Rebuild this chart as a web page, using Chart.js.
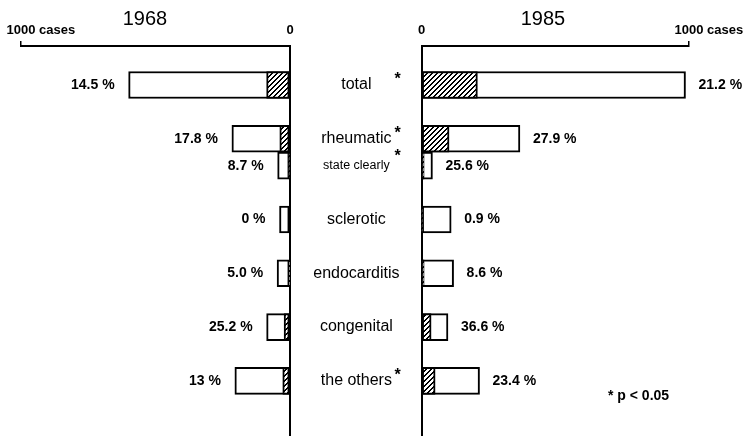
<!DOCTYPE html>
<html>
<head>
<meta charset="utf-8">
<script src="https://cdn.jsdelivr.net/npm/chart.js@4.4.1/dist/chart.umd.min.js"></script>
<style>
  body { margin: 0; background: #fff; }
  #wrap { position: relative; width: 747px; height: 436px; overflow: hidden; background: #fff; font-family: "Liberation Sans", Arial, sans-serif; color: #000; }
  canvas { position: absolute; top: 0; display: block; }
  #left { left: 0; }
  #right { left: 290px; }
  .year { position: absolute; top: 8px; width: 100px; text-align: center; font-size: 20px; line-height: 20px; }
  #note { position: absolute; left: 608px; top: 387px; font-size: 14px; line-height: 16px; font-weight: bold; white-space: nowrap; }
</style>
</head>
<body>
<div id="wrap">
  <canvas id="left" width="296" height="436"></canvas>
  <canvas id="right" width="457" height="436"></canvas>
  <div class="year" style="left:95px">1968</div>
  <div class="year" style="left:493px">1985</div>
  <div id="note">* p &lt; 0.05</div>
</div>
<script>
const categories = ['total', 'rheumatic', 'state clearly', 'sclerotic', 'endocarditis', 'congenital', 'the others'];
const cases1968 = [600, 216, 46, 39, 48, 87, 205];
const hatched1968 = [87, 38, 4, 0, 2, 22, 27];
const pct1968 = ['14.5 %', '17.8 %', '8.7 %', '0 %', '5.0 %', '25.2 %', '13 %'];
const cases1985 = [987, 368, 41, 111, 120, 99, 217];
const hatched1985 = [209, 103, 10, 1, 10, 36, 51];
const pct1985 = ['21.2 %', '27.9 %', '25.6 %', '0.9 %', '8.6 %', '36.6 %', '23.4 %'];
const significant = [true, true, true, false, false, false, true];
const axisTicks = [0, 1000];

// layout only: row slot of each category (rheumatic and state clearly share a slot)
const rowSlot = [0, 2, 3, 5, 7, 9, 11];

const FONT = '"Liberation Sans", Arial, sans-serif';
Chart.defaults.font.family = FONT;
Chart.defaults.color = '#000';

function hatchPattern() {
  const c = document.createElement('canvas');
  c.width = 5; c.height = 5;
  const g = c.getContext('2d');
  g.fillStyle = '#fff';
  g.fillRect(0, 0, 5, 5);
  g.fillStyle = '#000';
  for (let y = 0; y < 5; y++) {
    g.fillRect(4 - y, y, 1, 1);
    g.fillRect((5 - y) % 5, y, 1, 1);
  }
  return g.createPattern(c, 'repeat');
}

// percentage text at the end of each bar, plus the "cases" word and asterisks
const barNotes = {
  id: 'barNotes',
  afterDraw(chart, args, opts) {
    const ctx = chart.ctx;
    const meta = chart.getDatasetMeta(1);
    const left = opts.side === 'left';
    ctx.save();
    ctx.fillStyle = '#000';
    ctx.textBaseline = 'middle';
    ctx.font = 'bold 14px ' + FONT;
    ctx.textAlign = left ? 'right' : 'left';
    meta.data.forEach((bar, i) => {
      ctx.fillText(opts.labels[i], left ? bar.x - 14 : bar.x + 13, bar.y);
    });

    const sc = chart.scales.x;
    const px = sc.getPixelForValue(1000);
    ctx.font = 'bold 13px ' + FONT;
    ctx.textAlign = 'left';
    const wx = px + ctx.measureText('1000').width / 2 + ctx.measureText(' ').width;
    ctx.fillText('cases', wx, sc.bottom - 5 - 3 - 13 * 1.2 / 2);

    if (!left) {
      ctx.font = 'bold 16px ' + FONT;
      ctx.textAlign = 'center';
      meta.data.forEach((bar, i) => {
        if (!significant[i]) return;
        const lift = categories[i] === 'state clearly' ? 9 : 5;
        ctx.fillText('*', chart.chartArea.left - 24, bar.y - lift);
      });
    }
    ctx.restore();
  }
};

function makeChart(id, side) {
  const left = side === 'left';
  const totals = left ? cases1968 : cases1985;
  const hatched = left ? hatched1968 : hatched1985;
  const pattern = hatchPattern();
  const barStyle = { borderColor: '#000', borderWidth: 2, borderSkipped: false, barThickness: 27, grouped: false };

  return new Chart(document.getElementById(id), {
    type: 'bar',
    data: {
      datasets: [
        Object.assign({
          label: 'hatched',
          data: hatched.map((v, i) => ({ x: v, y: rowSlot[i] })),
          backgroundColor: pattern,
          order: 0
        }, barStyle),
        Object.assign({
          label: 'cases',
          data: totals.map((v, i) => ({ x: v, y: rowSlot[i] })),
          backgroundColor: '#fff',
          order: 1
        }, barStyle)
      ]
    },
    options: {
      indexAxis: 'y',
      responsive: false,
      animation: false,
      devicePixelRatio: 1,
      layout: { padding: left ? { left: 21, right: 6, top: 0, bottom: 0 } : { left: 0, right: 58, top: 0, bottom: 0 } },
      plugins: {
        legend: { display: false },
        tooltip: { enabled: false },
        barNotes: { side: side, labels: left ? pct1968 : pct1985 }
      },
      scales: {
        x: {
          type: 'linear',
          position: 'top',
          min: 0,
          max: 1000,
          reverse: left,
          offset: false,
          afterBuildTicks: s => { s.ticks = axisTicks.map(v => ({ value: v })); },
          afterFit: s => { s.height = 46; },
          grid: {
            offset: false,
            drawOnChartArea: false,
            tickLength: 5,
            lineWidth: 1.5,
            color: c => (c.tick && c.tick.value === 1000) ? '#000' : 'rgba(0,0,0,0)'
          },
          border: { display: true, color: '#000', width: 2 },
          ticks: {
            autoSkip: false,
            maxRotation: 0,
            padding: 3,
            font: { size: 13, weight: 'bold' },
            callback: v => String(v)
          }
        },
        y: {
          type: 'linear',
          position: left ? 'right' : 'left',
          min: -1.45,
          max: 13.05,
          reverse: true,
          offset: false,
          afterBuildTicks: s => { s.ticks = rowSlot.map(v => ({ value: v })); },
          afterFit: s => {
            s.width = left ? 0 : 131.5;
            s.paddingTop = 0;
            s.paddingBottom = 0;
          },
          grid: { display: true, offset: false, drawOnChartArea: false, drawTicks: false },
          border: { display: true, color: '#000', width: 2 },
          ticks: {
            display: !left,
            autoSkip: false,
            crossAlign: 'center',
            padding: 22,
            font: c => ({ size: categories[c.index] === 'state clearly' ? 12.5 : 16 }),
            callback: (v, i) => categories[i]
          }
        }
      }
    },
    plugins: [barNotes]
  });
}

makeChart('left', 'left');
makeChart('right', 'right');
</script>
</body>
</html>
